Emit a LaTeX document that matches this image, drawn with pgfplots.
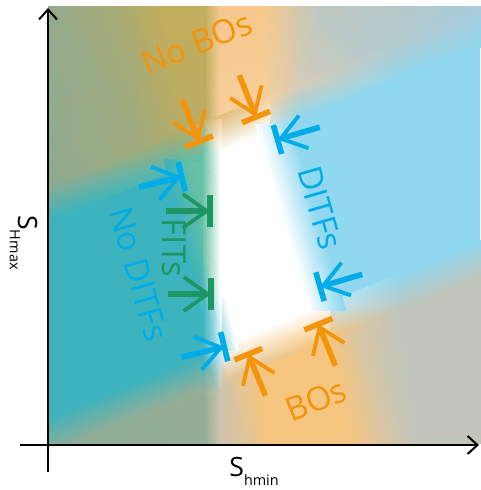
\documentclass[border=0pt]{standalone}
\usepackage{fontspec}
\setmainfont{Open Sans}
\usepackage{pgfplots}
\pgfplotsset{compat=1.18}
\usetikzlibrary{arrows.meta}
\definecolor{cTL}{RGB}{148,170,142}
\definecolor{cTLb}{RGB}{142,170,146}
\definecolor{cTLm}{RGB}{170,172,116}
\definecolor{cOliv}{RGB}{162,171,124}
\definecolor{cOliv2}{RGB}{172,172,108}
\definecolor{cGold}{RGB}{194,174,92}
\definecolor{cGold2}{RGB}{184,172,100}
\definecolor{cGO}{RGB}{220,188,120}
\definecolor{cOr}{RGB}{246,200,140}
\definecolor{cOrL}{RGB}{247,207,158}
\definecolor{cBeigeT}{RGB}{214,204,184}
\definecolor{cGreyT}{RGB}{190,200,193}
\definecolor{cBGt}{RGB}{180,201,202}
\definecolor{cBGm}{RGB}{176,203,210}
\definecolor{cBGc}{RGB}{166,204,222}
\definecolor{cBl}{RGB}{143,216,240}
\definecolor{cBlL}{RGB}{195,232,246}
\definecolor{cTeal}{RGB}{60,179,189}
\definecolor{cTG}{RGB}{80,185,178}
\definecolor{cGr}{RGB}{105,193,165}
\definecolor{cBGOb}{RGB}{142,172,152}
\definecolor{cBGOb2}{RGB}{150,175,150}
\definecolor{cBOb}{RGB}{205,196,172}
\definecolor{cBOm}{RGB}{225,197,152}
\definecolor{cOrB}{RGB}{246,197,128}
\definecolor{cBeigeB}{RGB}{218,198,162}
\definecolor{cGreyB}{RGB}{191,197,189}
\definecolor{cOrT}{RGB}{243,148,10}
\definecolor{cBlT}{RGB}{0,172,232}
\definecolor{cGrT}{RGB}{30,150,100}
\tikzset{
  arr/.style={line width=2.8pt, -{Straight Barb[length=12pt,width=17pt,line width=1.9pt]}},
  bar/.style={line width=2.8pt},
  lab/.style={font=\fontsize{16.5}{18}\selectfont, inner sep=0pt}}
\pgfplotsset{shd/.style={patch, shader=interp, mesh/color input=explicit, point meta=explicit symbolic}}
\begin{document}
\begin{tikzpicture}
\useasboundingbox (-24pt,-23.5pt) rectangle (216pt,221.5pt);
\begin{axis}[at={(0pt,0pt)}, anchor=south west, scale only axis,
  width=216pt, height=218pt, xmin=48, xmax=480, ymin=7, ymax=443,
  y dir=reverse, hide axis, no markers, clip=true]
% top band
\addplot[shd] table[meta=c, row sep=\\] {
x y c\\
47 6 color=cTL\\ 120 6 color=cTLm\\ 150 162 color=cOliv\\
47 6 color=cTL\\ 150 162 color=cOliv\\ 47 203.2 color=cTLb\\
120 6 color=cTLm\\ 160 6 color=cGold\\ 185 148 color=cGold2\\
120 6 color=cTLm\\ 185 148 color=cGold2\\ 150 162 color=cOliv\\
160 6 color=cGold\\ 205 6 color=cGold\\ 205 140 color=cGold2\\
160 6 color=cGold\\ 205 140 color=cGold2\\ 185 148 color=cGold2\\
205 6 color=cGold\\ 220 6 color=cOr\\ 220 134 color=cOrL\\
205 6 color=cGold\\ 220 134 color=cOrL\\ 205 140 color=cGold2\\
220 6 color=cOr\\ 265 6 color=cOr\\ 265 116 color=cOrL\\
220 6 color=cOr\\ 265 116 color=cOrL\\ 220 134 color=cOrL\\
265 6 color=cOr\\ 320 6 color=cGreyT\\ 300 102 color=cBeigeT\\
265 6 color=cOr\\ 300 102 color=cBeigeT\\ 265 116 color=cOrL\\
320 6 color=cGreyT\\ 400 6 color=cBGt\\ 400 62 color=cBGm\\
320 6 color=cGreyT\\ 400 62 color=cBGm\\ 300 102 color=cBeigeT\\
400 6 color=cBGt\\ 481 6 color=cBGc\\ 481 29.6 color=cBGc\\
400 6 color=cBGt\\ 481 29.6 color=cBGc\\ 400 62 color=cBGm\\
};
% bottom band
\addplot[shd] table[meta=c, row sep=\\] {
x y c\\
47 436.4 color=cBGOb\\ 205 371.65 color=cBGOb2\\ 205 444 color=cBGOb2\\
47 436.4 color=cBGOb\\ 205 444 color=cBGOb2\\ 47 444 color=cBGOb\\
205 371.65 color=cBGOb2\\ 220 365.5 color=cBOb\\ 220 444 color=cBOb\\
205 371.65 color=cBGOb2\\ 220 444 color=cBOb\\ 205 444 color=cBGOb2\\
220 365.5 color=cBOb\\ 232 360.58 color=cBOm\\ 247 444 color=cBOm\\
220 365.5 color=cBOb\\ 247 444 color=cBOm\\ 220 444 color=cBOb\\
232 360.58 color=cBOm\\ 262 348.28 color=cOrB\\ 268 444 color=cOrB\\
232 360.58 color=cBOm\\ 268 444 color=cOrB\\ 247 444 color=cBOm\\
262 348.28 color=cOrB\\ 325 322.45 color=cOrB\\ 350 444 color=cOrB\\
262 348.28 color=cOrB\\ 350 444 color=cOrB\\ 268 444 color=cOrB\\
325 322.45 color=cOrB\\ 350 312.2 color=cBeigeB\\ 385 444 color=cBeigeB\\
325 322.45 color=cOrB\\ 385 444 color=cBeigeB\\ 350 444 color=cOrB\\
350 312.2 color=cBeigeB\\ 400 291.7 color=cGreyB\\ 420 444 color=cGreyB\\
350 312.2 color=cBeigeB\\ 420 444 color=cGreyB\\ 385 444 color=cBeigeB\\
400 291.7 color=cGreyB\\ 481 258.5 color=cGreyB\\ 481 444 color=cGreyB\\
400 291.7 color=cGreyB\\ 481 444 color=cGreyB\\ 420 444 color=cGreyB\\
};
% middle flat regions
\addplot[draw=none, fill=cTeal] coordinates {(47,203.2) (176,151.6) (212,298.4) (212,368.8) (47,436.4)} --cycle;
\addplot[draw=none, fill=cGr] coordinates {(176,151.6) (212,137.2) (212,298.4)} --cycle;
\addplot[draw=none, fill=white] coordinates {(212,137.2) (270.7,113.7) (330.5,320.2) (227.7,362.3) (212,298.4)} --cycle;
\addplot[draw=none, fill=cBl] coordinates {(270.7,113.7) (481,29.6) (481,258.5) (330.5,320.2)} --cycle;
\addplot[draw=none, fill=cBlL] coordinates {(212,298.4) (227.7,362.3) (212,368.8)} --cycle;
% soft edges along the two slanted lines
\addplot[shd] table[meta=c, row sep=\\] {
x y c\\
47 185.2 color=cTLb\\ 176 133.6 color=cOliv2\\ 176 169.6 color=cTG\\
47 185.2 color=cTLb\\ 176 169.6 color=cTG\\ 47 221.2 color=cTeal\\
176 133.6 color=cOliv2\\ 212 119.2 color=cGO\\ 212 155.2 color=cGr\\
176 133.6 color=cOliv2\\ 212 155.2 color=cGr\\ 176 169.6 color=cTG\\
212 119.2 color=cGO\\ 270.7 95.7 color=cOrL\\ 270.7 131.7 color=white\\
212 119.2 color=cGO\\ 270.7 131.7 color=white\\ 212 155.2 color=white\\
270.7 95.7 color=cOrL\\ 300 84 color=cBeigeT\\ 300 120 color=cBl\\
270.7 95.7 color=cOrL\\ 300 120 color=cBl\\ 270.7 131.7 color=cBlL\\
300 84 color=cBeigeT\\ 400 44 color=cBGm\\ 400 80 color=cBl\\
300 84 color=cBeigeT\\ 400 80 color=cBl\\ 300 120 color=cBl\\
400 44 color=cBGm\\ 481 11.6 color=cBGc\\ 481 47.6 color=cBl\\
400 44 color=cBGm\\ 481 47.6 color=cBl\\ 400 80 color=cBl\\
47 418.4 color=cTeal\\ 212 350.8 color=cTeal\\ 212 386.8 color=cBGOb2\\
47 418.4 color=cTeal\\ 212 386.8 color=cBGOb2\\ 47 454.4 color=cBGOb\\
212 350.8 color=cBlL\\ 227.7 344.3 color=white\\ 227.7 380.3 color=cBOm\\
212 350.8 color=cBlL\\ 227.7 380.3 color=cBOm\\ 212 386.8 color=cBOb\\
227.7 344.3 color=white\\ 330.5 302.2 color=white\\ 330.5 338.2 color=cOrB\\
227.7 344.3 color=white\\ 330.5 338.2 color=cOrB\\ 227.7 380.3 color=cBOm\\
330.5 302.2 color=cBlL\\ 400 273.7 color=cBl\\ 400 309.7 color=cGreyB\\
330.5 302.2 color=cBlL\\ 400 309.7 color=cGreyB\\ 330.5 338.2 color=cOrB\\
400 273.7 color=cBl\\ 481 240.5 color=cBl\\ 481 276.5 color=cGreyB\\
400 273.7 color=cBl\\ 481 276.5 color=cGreyB\\ 400 309.7 color=cGreyB\\
};
% soft edges along the steep lines
\addplot[shd] table[meta=c, row sep=\\] {
x y c\\
164.1 160 color=cTeal\\ 186.15 250 color=cTeal\\ 212 250 color=cGr\\
164.1 160 color=cTeal\\ 212 250 color=cGr\\ 192.1 160 color=cGr\\
186.15 250 color=cTeal\\ 198 298.4 color=cTeal\\ 212 298.4 color=cTG\\
186.15 250 color=cTeal\\ 212 298.4 color=cTG\\ 212 250 color=cGr\\
198 298.4 color=cTeal\\ 210.65 350 color=cTeal\\ 238.65 350 color=white\\
198 298.4 color=cTeal\\ 238.65 350 color=white\\ 226 298.4 color=white\\
203 119 color=cGold2\\ 203 150 color=cGr\\ 221 150 color=white\\
203 119 color=cGold2\\ 221 150 color=white\\ 221 119 color=cOrL\\
203 150 color=cGr\\ 203 250 color=cGr\\ 221 250 color=white\\
203 150 color=cGr\\ 221 250 color=white\\ 221 150 color=white\\
203 250 color=cGr\\ 203 298.4 color=cTeal\\ 221 298.4 color=white\\
203 250 color=cGr\\ 221 298.4 color=white\\ 221 250 color=white\\
203 298.4 color=cTeal\\ 203 355 color=cTeal\\ 221 355 color=cBlL\\
203 298.4 color=cTeal\\ 221 355 color=cBlL\\ 221 298.4 color=white\\
203 355 color=cTeal\\ 203 395 color=cBGOb2\\ 221 395 color=cBOb\\
203 355 color=cTeal\\ 221 395 color=cBOb\\ 221 355 color=cBlL\\
255.95 125 color=white\\ 309.6 310 color=white\\ 345.6 310 color=cBl\\
255.95 125 color=white\\ 345.6 310 color=cBl\\ 291.95 125 color=cBl\\
};
% arrows: No BOs
\addplot[cOrT, arr] coordinates {(182.3,99.7) (199,141.5)};
\addplot[cOrT, bar] coordinates {(185.1,147.1) (212.9,135.9)};
\addplot[cOrT, arr] coordinates {(239.3,75.2) (256,117)};
\addplot[cOrT, bar] coordinates {(242.1,122.6) (269.9,111.4)};
% BOs
\addplot[cOrT, arr] coordinates {(265.4,395.8) (248.3,354.2)};
\addplot[cOrT, bar] coordinates {(234.4,359.9) (262.2,348.5)};
\addplot[cOrT, arr] coordinates {(335.4,365.8) (318.3,324.2)};
\addplot[cOrT, bar] coordinates {(304.4,329.9) (332.2,318.5)};
% FITs
\addplot[cGrT, arr] coordinates {(166,211) (210,211)};
\addplot[cGrT, bar] coordinates {(210,195) (210,227)};
\addplot[cGrT, arr] coordinates {(168,294) (211,294)};
\addplot[cGrT, bar] coordinates {(211,278) (211,310)};
% No DITFs
\addplot[cBlT, arr] coordinates {(139,187.2) (181.7,176.7)};
\addplot[cBlT, bar] coordinates {(178.1,162.1) (185.3,191.3)};
\addplot[cBlT, arr] coordinates {(181.5,357.2) (224.2,346.7)};
\addplot[cBlT, bar] coordinates {(220.6,332.1) (227.8,361.3)};
% DITFs
\addplot[cBlT, arr] coordinates {(319.7,127.2) (277.5,139.5)};
\addplot[cBlT, bar] coordinates {(273.3,125.1) (281.7,153.9)};
\addplot[cBlT, arr] coordinates {(362.2,274.4) (320,286.7)};
\addplot[cBlT, bar] coordinates {(315.8,272.3) (324.2,301.1)};
% texts
\node[lab, text=cOrT, rotate=22] at (axis cs:197,43) {No BOs};
\node[lab, text=cOrT, rotate=22] at (axis cs:316,400) {BOs};
\node[lab, text=cBlT, rotate=-74] at (axis cs:320,208) {DITFs};
\node[lab, text=cBlT, rotate=-74] at (axis cs:139,274) {No DITFs};
\node[lab, text=cGrT, rotate=-90] at (axis cs:174,248) {FITs};
\end{axis}
\draw[line width=1pt, -{Straight Barb[length=5pt,width=9pt]}] (-14pt,-1pt) -- (215.5pt,-1pt);
\draw[line width=1pt, -{Straight Barb[length=5pt,width=9pt]}] (0pt,-14.5pt) -- (0pt,217.5pt);
\node[anchor=base west, inner sep=0pt, font=\fontsize{13.3}{15}\selectfont] at (90.5pt,-17pt) {S\raisebox{-4pt}{\fontsize{7.2}{8}\selectfont hmin}};
\node[anchor=base west, inner sep=0pt, rotate=-90, font=\fontsize{13.3}{15}\selectfont] at (-15pt,114pt) {S\raisebox{-4pt}{\fontsize{7.2}{8}\selectfont Hmax}};
\end{tikzpicture}
\end{document}
